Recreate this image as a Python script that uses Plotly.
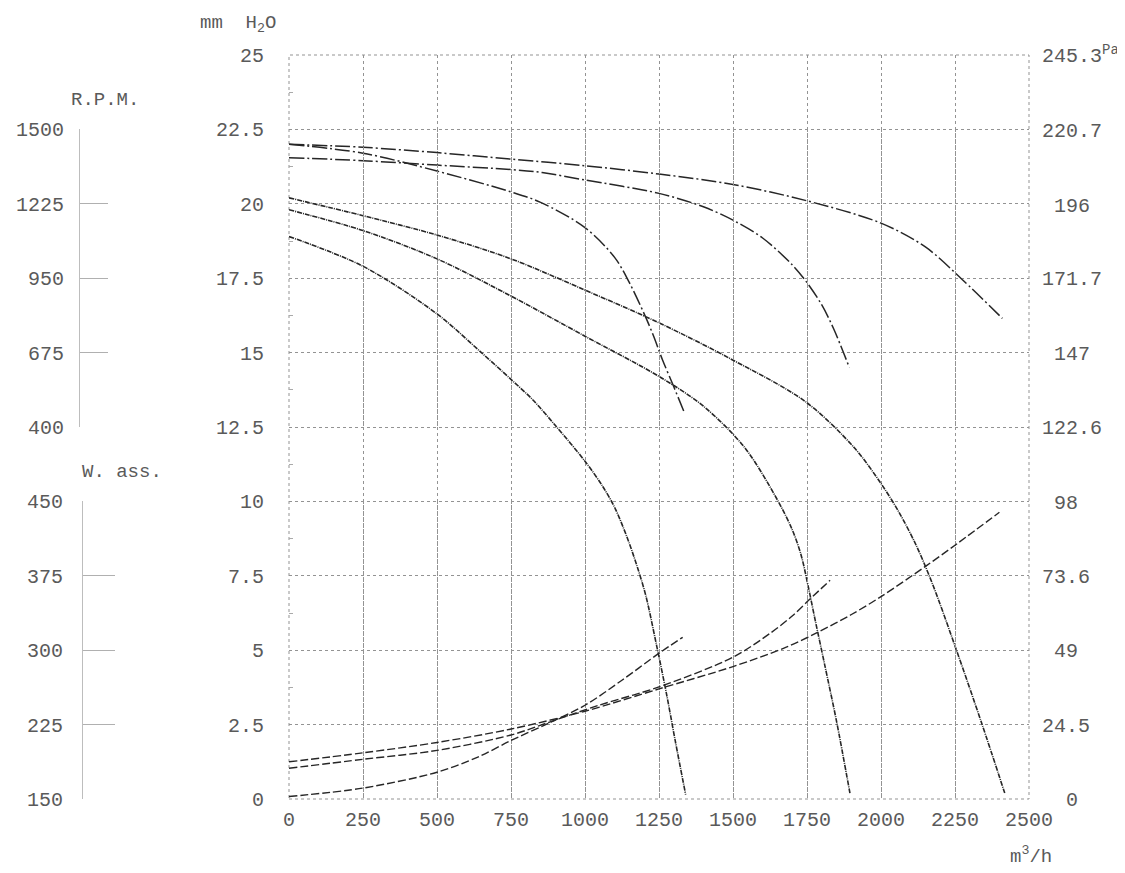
import plotly.graph_objects as go

# ---------------- data ----------------
flow_ticks = [0, 250, 500, 750, 1000, 1250, 1500, 1750, 2000, 2250, 2500]
mm_ticks = [0, 2.5, 5, 7.5, 10, 12.5, 15, 17.5, 20, 22.5, 25]
mm_labels = ["0", "2.5", "5", "7.5", "10", "12.5", "15", "17.5", "20", "22.5", "25"]
pa_labels = ["0", "24.5", "49", "73.6", "98", "122.6", "147", "171.7", "196", "220.7", "245.3"]
rpm_ticks = [400, 675, 950, 1225, 1500]
w_ticks = [150, 225, 300, 375, 450]

# static pressure curves (mm H2O) - solid
q_a = [0, 250, 500, 650, 750, 825, 900, 1000, 1060, 1100, 1140, 1175, 1205, 1240, 1275, 1305, 1340]
p_a = [18.9, 17.9, 16.3, 15.0, 14.1, 13.4, 12.55, 11.35, 10.5, 9.8, 8.85, 7.85, 6.85, 5.25, 3.55, 1.95, 0.15]

q_b = [0, 250, 500, 750, 1000, 1250, 1400, 1540, 1650, 1700, 1730, 1755, 1780, 1810, 1850, 1895]
p_b = [19.8, 19.1, 18.15, 16.9, 15.55, 14.2, 13.2, 11.8, 10.05, 9.05, 8.2, 7.1, 5.9, 4.5, 2.6, 0.2]

q_c = [0, 250, 500, 750, 1000, 1250, 1490, 1745, 1910, 2000, 2060, 2120, 2175, 2255, 2340, 2418]
p_c = [20.2, 19.6, 18.95, 18.15, 17.1, 16.0, 14.8, 13.35, 11.8, 10.6, 9.65, 8.5, 7.2, 5.0, 2.55, 0.2]

# static pressure curves (mm H2O) - dash-dot
q_d = [0, 250, 500, 750, 850, 1000, 1100, 1150, 1200, 1230, 1262, 1300, 1335]
p_d = [22.0, 21.7, 21.1, 20.4, 20.05, 19.2, 18.2, 17.35, 16.3, 15.6, 14.75, 13.85, 13.0]

q_e = [0, 250, 500, 750, 855, 1000, 1250, 1400, 1500, 1600, 1700, 1750, 1800, 1840, 1893]
p_e = [21.55, 21.45, 21.3, 21.15, 21.05, 20.8, 20.35, 19.9, 19.45, 18.85, 17.95, 17.35, 16.6, 15.8, 14.5]

q_f = [0, 250, 500, 750, 1000, 1250, 1500, 1750, 2000, 2150, 2275, 2410]
p_f = [22.0, 21.9, 21.72, 21.5, 21.28, 21.0, 20.65, 20.1, 19.35, 18.55, 17.45, 16.15]

# absorbed power curves (W)
q_w1 = [0, 250, 500, 640, 750, 867, 1000, 1126, 1248, 1330]
w_1 = [152.5, 161, 177, 192.5, 209, 225, 244.5, 270, 296.5, 313]

q_w2 = [0, 250, 500, 750, 870, 1047, 1250, 1500, 1630, 1700, 1760, 1828]
w_2 = [181, 190, 199, 214.5, 226.5, 244.5, 263, 293, 318, 334.5, 351.5, 370.5]

q_w3 = [0, 250, 500, 750, 1000, 1250, 1500, 1680, 1790, 1900, 2000, 2155, 2260, 2400]
w_3 = [187.5, 196.5, 207, 220.5, 238.5, 261, 283.5, 303, 318.6, 336, 354, 385.5, 408, 439]

# ---------------- figure ----------------
OFF = 8                      # page body margin
FW, FH = 1125 - OFF, 873 - OFF
L, R, T, B = 289, 1029, 55, 799   # plot area in window pixels
TXT = "#5a5a5a"
GRID = "#939393"
FONT = "Liberation Mono"

fig = go.Figure()

solid = dict(color="#262626", width=1.6, dash="5px,1px,1px,1px", shape="spline", smoothing=0.9)
dashdot = dict(color="#262626", width=1.5, dash="15px,3px,2px,3px", shape="spline", smoothing=0.9)
pw = dict(color="#262626", width=1.4, dash="8px,3px", shape="spline", smoothing=0.9)

for q, p in [(q_a, p_a), (q_b, p_b), (q_c, p_c)]:
    fig.add_trace(go.Scatter(x=q, y=p, mode="lines", line=solid, hoverinfo="skip"))
for q, p in [(q_d, p_d), (q_e, p_e), (q_f, p_f)]:
    fig.add_trace(go.Scatter(x=q, y=p, mode="lines", line=dashdot, hoverinfo="skip"))
for q, p in [(q_w1, w_1), (q_w2, w_2), (q_w3, w_3)]:
    fig.add_trace(go.Scatter(x=q, y=p, mode="lines", line=pw, yaxis="y4", hoverinfo="skip"))

# carriers for the Pa and RPM scales
fig.add_trace(go.Scatter(x=[None], y=[None], yaxis="y2", hoverinfo="skip"))
fig.add_trace(go.Scatter(x=[None], y=[None], yaxis="y3", hoverinfo="skip"))

pad = "\u00a0"
pa_text = [pad * max(0, (5 - len(s)) // 2) + s for s in pa_labels]
pa_text[-1] = pa_text[-1] + "<sup>Pa</sup>"
pa_vals = [float(s) for s in pa_labels]
minor_mm = [(a + b) / 2 for a, b in zip(mm_ticks[:-1], mm_ticks[1:])]


def fx(x):
    return (x - OFF) / FW


def fy(y):
    return (B - y) / (B - T)


fig.update_layout(
    width=FW, height=FH, template="none",
    margin=dict(l=0, r=0, t=T - OFF, b=FH - (B - OFF), pad=0),
    paper_bgcolor="white", plot_bgcolor="rgba(0,0,0,0)", showlegend=False,
    font=dict(family=FONT, size=20, color=TXT),
    xaxis=dict(domain=[fx(L), fx(R)], range=[0, 2500], tickmode="array", tickvals=flow_ticks,
               showgrid=True, gridcolor=GRID, griddash="dot", gridwidth=1,
               zeroline=False, showline=False, ticks="", ticklabelstandoff=6,
               automargin=False, fixedrange=True),
    yaxis=dict(range=[0, 25], tickmode="array", tickvals=mm_ticks, ticktext=mm_labels,
               showgrid=True, gridcolor=GRID, griddash="dot", gridwidth=1,
               zeroline=False, showline=False, ticks="", ticklabelstandoff=24,
               minor=dict(tickvals=minor_mm, ticks="inside", ticklen=4, tickcolor="#aaaaaa"),
               automargin=False, fixedrange=True),
    yaxis2=dict(overlaying="y", anchor="x", side="right", range=[0, 245.3],
                tickmode="array", tickvals=pa_vals, ticktext=pa_text,
                showgrid=False, zeroline=False, showline=False, ticks="",
                ticklabelstandoff=12, automargin=False, fixedrange=True),
    yaxis3=dict(domain=[12.5 / 25, 22.5 / 25], range=[400, 1500], anchor="free",
                position=fx(79), side="left", tickmode="array", tickvals=rpm_ticks,
                ticks="inside", ticklen=28, tickcolor="#b0b0b0", tickwidth=1,
                showline=True, linecolor="#bdbdbd", linewidth=1,
                showgrid=False, zeroline=False, ticklabelstandoff=11,
                automargin=False, fixedrange=True),
    yaxis4=dict(domain=[0, 10 / 25], range=[150, 450], anchor="free",
                position=fx(82), side="left", tickmode="array", tickvals=w_ticks,
                ticks="inside", ticklen=32, tickcolor="#b0b0b0", tickwidth=1,
                showline=True, linecolor="#bdbdbd", linewidth=1,
                showgrid=False, zeroline=False, ticklabelstandoff=15,
                automargin=False, fixedrange=True),
)

# dotted frame of the plotting area (edge grid lines)
fig.add_shape(type="rect", xref="x domain", yref="y domain", x0=0, x1=1, y0=0, y1=1,
              line=dict(color=GRID, width=1, dash="dot"), layer="below")

labels = [
    ("mm\u00a0\u00a0H<sub>2</sub>O", 238, 24),
    ("R.P.M.", 105, 100),
    ("W. ass.", 122, 472),
    ("m<sup>3</sup>/h", 1031, 855),
]
for text, x, y in labels:
    fig.add_annotation(text=text, x=fx(x), y=fy(y), xref="paper", yref="paper",
                       showarrow=False, xanchor="center", yanchor="middle",
                       font=dict(family=FONT, size=19, color=TXT))

fig.write_html("out.html")
